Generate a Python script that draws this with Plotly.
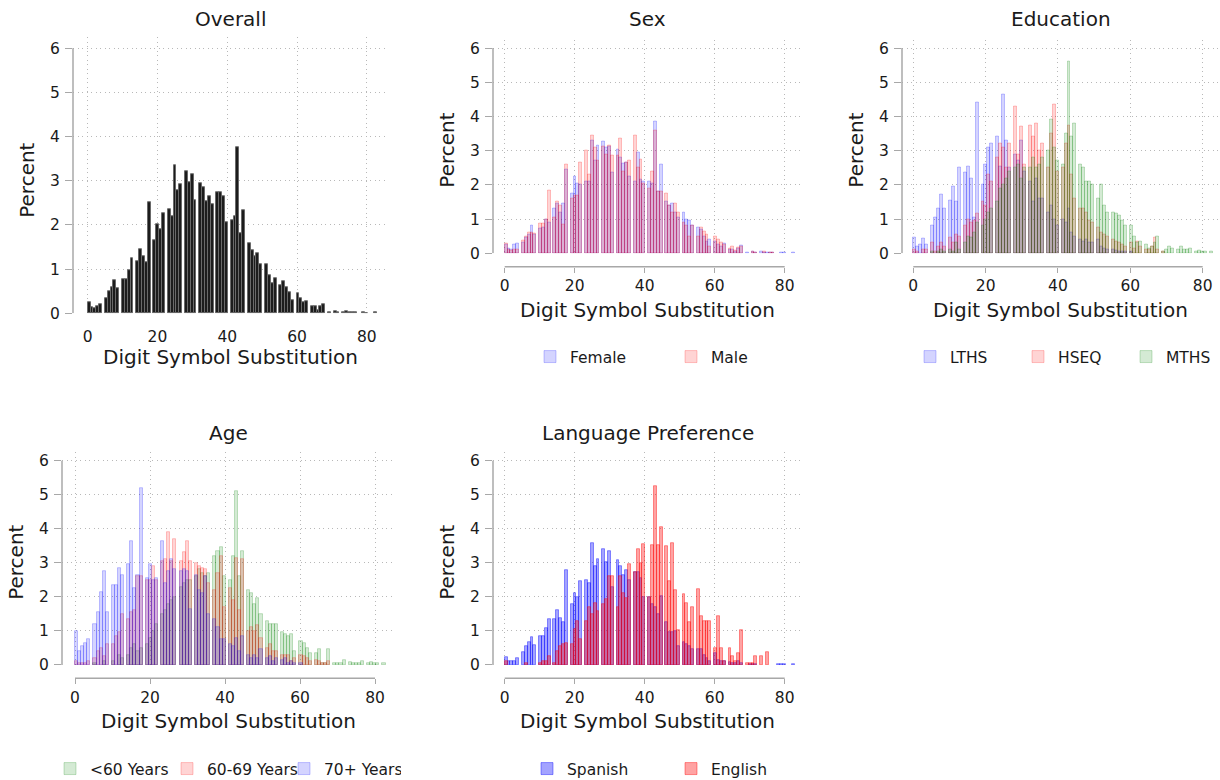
import plotly.graph_objects as go

# ---------------- data (percent of sample at each Digit Symbol Substitution score) -------------
scores = list(range(83))  # 0 .. 82

overall = [0.24,0.13,0.11,0.17,0.20, 0.35,0.50,0.58,0.75,0.56, 0.78,0.78,0.98,1.24,1.19,
           1.46,1.29,1.15,2.51,1.66, 2.01,1.91,2.27,2.36,2.20, 3.36,2.78,2.92,3.21,2.96,
           3.14,2.57,2.94,2.86,2.54, 2.66,2.47,2.74,2.74,2.64, 2.07,2.10,2.20,3.75,1.81,
           2.33,1.58,1.42,1.29,1.36, 1.12,1.12,0.86,0.69,0.80, 0.63,0.72,0.58,0.48,0.29,
           0.45,0.34,0.25,0.27,0.15, 0.16,0.06,0.17,0.20,0.02, 0.00,0.05,0.03,0.03,0.04,
           0.02,0.02,0.03,0.00,0.02, 0.01,0.00,0.02]

female = [0.25,0.15,0.12,0.25,0.28, 0.30,0.45,0.55,0.82,0.55, 0.72,0.75,1.00,0.90,1.30,
          1.45,1.20,1.45,2.45,1.75, 2.25,2.05,2.00,2.10,2.10, 3.30,2.70,3.15,3.28,3.08,
          3.12,2.35,3.02,2.80,2.62, 2.65,2.25,2.10,2.95,2.15, 2.10,2.10,2.05,3.85,1.80,
          2.60,1.50,1.40,1.45,1.20, 1.05,1.20,1.00,0.95,0.80, 0.75,0.70,0.50,0.35,0.40,
          0.35,0.25,0.20,0.28,0.12, 0.10,0.05,0.15,0.22,0.03, 0.00,0.05,0.03,0.05,0.03,
          0.02,0.03,0.03,0.00,0.02, 0.02,0.00,0.02]
male = [0.28,0.10,0.08,0.10,0.10, 0.38,0.50,0.60,0.60,0.58, 0.86,0.86,1.00,1.83,1.05,
        1.50,1.40,0.85,2.60,1.60, 1.70,1.70,2.65,3.00,2.30, 3.45,3.10,2.70,3.12,2.90,
        3.15,2.85,2.85,3.35,2.40, 2.65,2.70,3.45,2.50,2.75, 2.05,1.90,2.40,3.60,1.80,
        1.80,1.75,1.40,1.20,1.45, 1.20,0.90,0.80,0.50,0.80, 0.50,0.75,0.65,0.55,0.20,
        0.50,0.40,0.30,0.25,0.15, 0.20,0.08,0.18,0.20,0.00, 0.00,0.05,0.02,0.00,0.04,
        0.00,0.02,0.02,0.00,0.00, 0.00,0.00,0.00]

lths = [0.45,0.20,0.25,0.42,0.25, 0.80,1.05,1.30,1.72,1.30, 1.55,1.95,1.50,2.50,2.35,
        2.55,2.20,1.05,4.40,2.00, 2.60,3.10,3.20,3.40,2.55, 4.65,3.30,2.50,2.90,2.70,
        3.30,2.40,2.10,1.50,2.20, 1.60,1.60,1.20,1.40,1.00, 0.80,1.00,0.90,1.30,0.60,
        0.50,0.40,0.35,0.40,0.30, 0.30,0.40,0.20,0.15,0.10, 0.10,0.08,0.05,0.05,0.05,
        0.05,0.00,0.00,0.00,0.00, 0.00,0.00,0.00,0.00,0.00, 0.00,0.00,0.00,0.00,0.00,
        0.00,0.00,0.00,0.00,0.00, 0.00,0.00,0.00]
hseq = [0.10,0.05,0.00,0.10,0.10, 0.30,0.05,0.20,0.30,0.20, 0.45,0.30,0.55,0.50,0.80,
        1.00,0.90,0.95,1.15,1.50, 1.40,2.30,2.10,2.80,3.20, 3.10,2.50,3.20,4.30,2.90,
        3.70,2.60,3.75,3.40,3.80, 3.00,3.20,2.50,3.50,4.35, 2.40,2.50,3.20,3.75,2.30,
        1.60,1.30,1.30,1.20,0.95, 0.90,0.75,0.60,0.55,0.50, 0.40,0.35,0.30,0.25,0.20,
        0.30,0.15,0.35,0.20,0.10, 0.10,0.20,0.45,0.10,0.05, 0.00,0.00,0.00,0.00,0.00,
        0.00,0.00,0.00,0.00,0.00, 0.00,0.00,0.00]
mths = [0.00,0.00,0.00,0.00,0.00, 0.05,0.00,0.05,0.10,0.05, 0.10,0.05,0.30,0.10,0.30,
        0.50,0.45,0.60,0.90,0.80, 1.00,1.20,1.30,1.50,1.90, 2.00,2.20,2.40,2.50,2.60,
        2.20,2.50,2.50,2.80,2.50, 2.60,2.80,3.00,3.90,3.10, 2.70,2.60,3.50,5.60,3.40,
        3.80,2.60,2.50,2.10,2.10, 2.00,1.60,2.00,1.40,1.20, 1.20,1.15,1.10,0.95,0.80,
        0.80,0.50,0.30,0.35,0.25, 0.15,0.20,0.30,0.50,0.05, 0.10,0.20,0.15,0.10,0.20,
        0.10,0.10,0.15,0.05,0.08, 0.05,0.05,0.05]

age_lt60 = [0.00,0.00,0.00,0.00,0.00, 0.05,0.00,0.00,0.10,0.00, 0.10,0.00,0.30,0.20,0.30,
            0.50,0.60,0.40,0.50,0.60, 0.80,1.00,1.20,1.50,1.60, 1.80,1.90,2.00,2.30,2.40,
            2.50,2.50,2.60,2.80,2.70, 2.60,2.70,3.20,3.35,3.45, 2.60,2.50,3.20,5.10,2.60,
            3.35,2.20,2.10,1.80,1.95, 1.50,1.30,1.20,1.20,1.20, 0.95,0.90,0.85,0.90,0.40,
            0.70,0.64,0.50,0.35,0.35, 0.45,0.05,0.05,0.45,0.05, 0.05,0.05,0.15,0.08,0.05,
            0.05,0.05,0.10,0.05,0.08, 0.05,0.05,0.05]
age_60_69 = [0.10,0.05,0.05,0.05,0.10, 0.20,0.40,0.50,0.25,0.60, 0.60,0.85,0.95,1.50,1.35,
             1.55,1.60,2.60,2.60,2.50, 2.50,2.90,2.50,3.05,3.10, 3.90,3.05,3.70,3.05,3.30,
             3.65,3.05,3.00,2.90,2.85, 2.80,2.40,2.20,2.70,3.20, 1.70,2.25,1.90,3.13,1.60,
             3.10,1.00,1.10,1.00,1.17, 0.80,0.50,0.60,0.40,0.40, 0.30,0.30,0.30,0.10,0.20,
             0.30,0.25,0.20,0.10,0.15, 0.10,0.05,0.05,0.10,0.00, 0.00,0.00,0.00,0.00,0.00,
             0.00,0.00,0.00,0.00,0.00, 0.00,0.00,0.00]
age_70p = [1.00,0.40,0.55,0.65,0.75, 1.20,1.55,2.15,2.75,1.55, 2.35,2.35,2.85,2.65,2.95,
           3.65,2.25,2.65,5.20,2.55, 2.95,2.50,2.55,3.65,2.40, 2.75,3.10,2.80,2.75,2.80,
           2.75,1.65,2.65,2.20,2.10, 2.60,1.50,1.35,1.10,0.75, 0.75,0.60,0.55,0.80,0.40,
           0.85,0.30,0.20,0.30,0.20, 0.45,0.20,0.25,0.10,0.20, 0.15,0.20,0.05,0.10,0.05,
           0.05,0.00,0.00,0.00,0.00, 0.00,0.00,0.00,0.00,0.00, 0.00,0.00,0.00,0.00,0.00,
           0.00,0.00,0.00,0.00,0.00, 0.00,0.00,0.00]

spanish = [0.23,0.12,0.12,0.12,0.20, 0.39,0.54,0.66,0.81,0.59, 0.86,0.86,1.08,1.35,1.35,
           1.60,1.37,1.25,2.77,1.79, 2.12,1.98,2.47,2.50,2.40, 3.59,2.89,3.10,3.40,3.03,
           3.33,2.30,3.08,2.89,2.64, 2.79,2.50,2.74,2.74,2.55, 2.00,1.99,1.80,1.70,1.50,
           2.03,1.27,0.95,0.95,1.00, 0.55,0.68,0.60,0.55,0.45, 0.47,0.45,0.30,0.20,0.10,
           0.34,0.15,0.12,0.10,0.08, 0.05,0.05,0.10,0.05,0.00, 0.02,0.02,0.02,0.00,0.00,
           0.00,0.00,0.00,0.03,0.02, 0.02,0.00,0.02]
english = [0.12,0.00,0.00,0.00,0.00, 0.00,0.05,0.00,0.00,0.00, 0.05,0.12,0.12,0.25,0.05,
           0.40,0.54,0.60,0.64,0.60, 1.05,1.29,0.75,1.30,1.71, 1.50,1.81,1.57,1.78,1.93,
           2.60,2.61,1.71,2.61,2.10, 1.96,2.95,2.74,3.40,3.00, 3.54,2.00,3.52,5.26,3.52,
           4.06,3.50,2.45,3.57,2.20, 1.03,2.08,1.83,1.27,1.71, 2.22,1.42,1.30,1.30,1.30,
           0.50,1.42,0.50,0.10,0.50, 0.26,0.10,0.34,1.03,0.05, 0.05,0.05,0.25,0.25,0.00,
           0.39,0.00,0.00,0.00,0.00, 0.00,0.00,0.00]

x_ticks = [0, 20, 40, 60, 80]
y_ticks = [0, 1, 2, 3, 4, 5, 6]
panel_titles = ["Overall", "Sex", "Education", "Age", "Language Preference"]
x_title = "Digit Symbol Substitution"
y_title = "Percent"

# ---------------- style ----------------
W, H = 1220, 780
FONT = "DejaVu Sans"
TXT = "#1a1a1a"
AX = "#a8a8a8"
GRID = "#b8b8b8"
GRID_DASH = "1px,3.5px"
BIN = dict(start=-0.005, end=82.9, size=0.82)

BLUE = ("rgba(0,0,255,0.17)", "rgba(0,0,255,0.22)")
RED = ("rgba(255,0,0,0.17)", "rgba(255,0,0,0.22)")
GREEN = ("rgba(0,128,0,0.17)", "rgba(0,128,0,0.22)")
BLUE_S = ("rgba(0,0,255,0.36)", "rgba(0,0,255,0.40)")
RED_S = ("rgba(255,0,0,0.36)", "rgba(255,0,0,0.40)")


def px(xs):
    return min(max(xs / W, 0.0), 1.0)


def py(ys):
    return min(max(1 - ys / H, 0.0), 1.0)


# panel geometry in window pixels: left edge, right edge, pixel of x=0, px per score unit,
# y-zero pixel, px per percent, x-axis pixel row, x-title row, title row
panels = [
    dict(l=73, r=387, x0=87.7, ux=3.489, y0=313.3, u=44.17, axy=317.0, xt=357, tt=19, line=False),
    dict(l=493, r=803, x0=504.7, ux=3.50, y0=253.3, u=34.2, axy=266.7, xt=310, tt=19, line=True),
    dict(l=902, r=1218, x0=913.3, ux=3.617, y0=253.3, u=34.2, axy=266.7, xt=310, tt=19, line=True),
    dict(l=62, r=392, x0=75.0, ux=3.75, y0=665.0, u=34.05, axy=678.3, xt=721, tt=433, line=True),
    dict(l=493, r=803, x0=504.7, ux=3.50, y0=665.0, u=34.05, axy=678.3, xt=721, tt=433, line=True),
]
YMAX = 6.25

fig = go.Figure()


def add_hist(n, vals, name, colors, legend=None):
    sfx = "" if n == 1 else str(n)
    fig.add_trace(go.Histogram(
        x=scores, y=vals, histfunc="sum", xbins=BIN, name=name,
        marker=dict(color=colors[0], line=dict(color=colors[1], width=1)),
        xaxis="x" + sfx, yaxis="y" + sfx,
        showlegend=legend is not None, legend=legend or "legend",
        hoverinfo="skip"))


add_hist(1, overall, "Overall", ("rgb(28,28,28)", "rgb(105,105,105)"))
add_hist(2, female, "Female", BLUE, "legend2")
add_hist(2, male, "Male", RED, "legend2")
add_hist(3, lths, "LTHS", BLUE, "legend3")
add_hist(3, hseq, "HSEQ", RED, "legend3")
add_hist(3, mths, "MTHS", GREEN, "legend3")
add_hist(4, age_lt60, "<60 Years", GREEN, "legend4")
add_hist(4, age_60_69, "60-69 Years", RED, "legend4")
add_hist(4, age_70p, "70+ Years", BLUE, "legend4")
add_hist(5, spanish, "Spanish", BLUE_S, "legend5")
add_hist(5, english, "English", RED_S, "legend5")

layout = dict(
    width=W, height=H, margin=dict(l=0, r=0, t=0, b=0, autoexpand=False),
    paper_bgcolor="white", plot_bgcolor="white",
    barmode="overlay", bargap=0, showlegend=True,
    font=dict(family=FONT, color=TXT, size=15),
)
shapes, annotations = [], []
for i, p in enumerate(panels):
    n = i + 1
    sfx = "" if n == 1 else str(n)
    top = p["y0"] - YMAX * p["u"]
    pos = py(p["axy"])
    xr = [(p["l"] - p["x0"]) / p["ux"], (p["r"] - p["x0"]) / p["ux"]]
    layout["xaxis" + sfx] = dict(
        domain=[px(p["l"]), px(p["r"])], range=xr, tickvals=x_ticks,
        showgrid=True, griddash=GRID_DASH, gridcolor=GRID, gridwidth=1,
        zeroline=False, showline=False, ticks="outside", ticklen=5, tickwidth=1.3,
        tickcolor=AX if p["line"] else "rgba(0,0,0,0)", automargin=False,
        anchor="free", position=pos, tickfont=dict(size=15.5, color=TXT), fixedrange=True)
    layout["yaxis" + sfx] = dict(
        domain=[py(p["y0"]), py(top)], range=[0, YMAX], tickvals=y_ticks,
        showgrid=True, griddash=GRID_DASH, gridcolor=GRID, gridwidth=1,
        zeroline=False, showline=False, ticks="outside", ticklen=7, tickwidth=1.3,
        tickcolor=AX, anchor="x" + sfx, tickfont=dict(size=15.5, color=TXT),
        ticklabelstandoff=2, automargin=False, fixedrange=True)
    # y spine from 0 to 6
    shapes.append(dict(type="line", xref="x" + sfx + " domain", yref="y" + sfx,
                       x0=0, x1=0, y0=0, y1=6, line=dict(color=AX, width=1.5)))
    if p["line"]:
        shapes.append(dict(type="line", xref="x" + sfx, yref="paper",
                           x0=0, x1=80, y0=pos, y1=pos, line=dict(color=AX, width=1.5)))
    # titles
    cmid = px(p["x0"] + 40 * p["ux"] + 3)
    annotations.append(dict(text=panel_titles[i], x=cmid, y=py(p["tt"]),
                            xref="paper", yref="paper", showarrow=False,
                            xanchor="center", yanchor="middle", font=dict(size=20)))
    annotations.append(dict(text=x_title, x=cmid, y=py(p["xt"]),
                            xref="paper", yref="paper", showarrow=False,
                            xanchor="center", yanchor="middle", font=dict(size=20)))
    annotations.append(dict(text=y_title, x=px(p["l"] - 46),
                            y=py(p["y0"] - 3 * p["u"]),
                            xref="paper", yref="paper", showarrow=False, textangle=-90,
                            xanchor="center", yanchor="middle", font=dict(size=20)))

leg_common = dict(orientation="h", xanchor="left", yanchor="middle",
                  bgcolor="rgba(0,0,0,0)", font=dict(size=15.5, color=TXT),
                  entrywidthmode="pixels", itemclick=False, itemdoubleclick=False)
layout["legend"] = dict(visible=False)
layout["legend2"] = dict(leg_common, x=px(530), y=py(357), entrywidth=96)
layout["legend3"] = dict(leg_common, x=px(910), y=py(357), entrywidth=63)
layout["legend4"] = dict(leg_common, x=px(50), y=py(769), entrywidth=72)
layout["legend5"] = dict(leg_common, x=px(527), y=py(769), entrywidth=99)
layout["shapes"] = shapes
layout["annotations"] = annotations
fig.update_layout(**layout)

fig.write_html(
    "out.html",
    config={"displayModeBar": False},
    post_script="document.body.style.margin='0';document.body.style.overflow='hidden';",
)
